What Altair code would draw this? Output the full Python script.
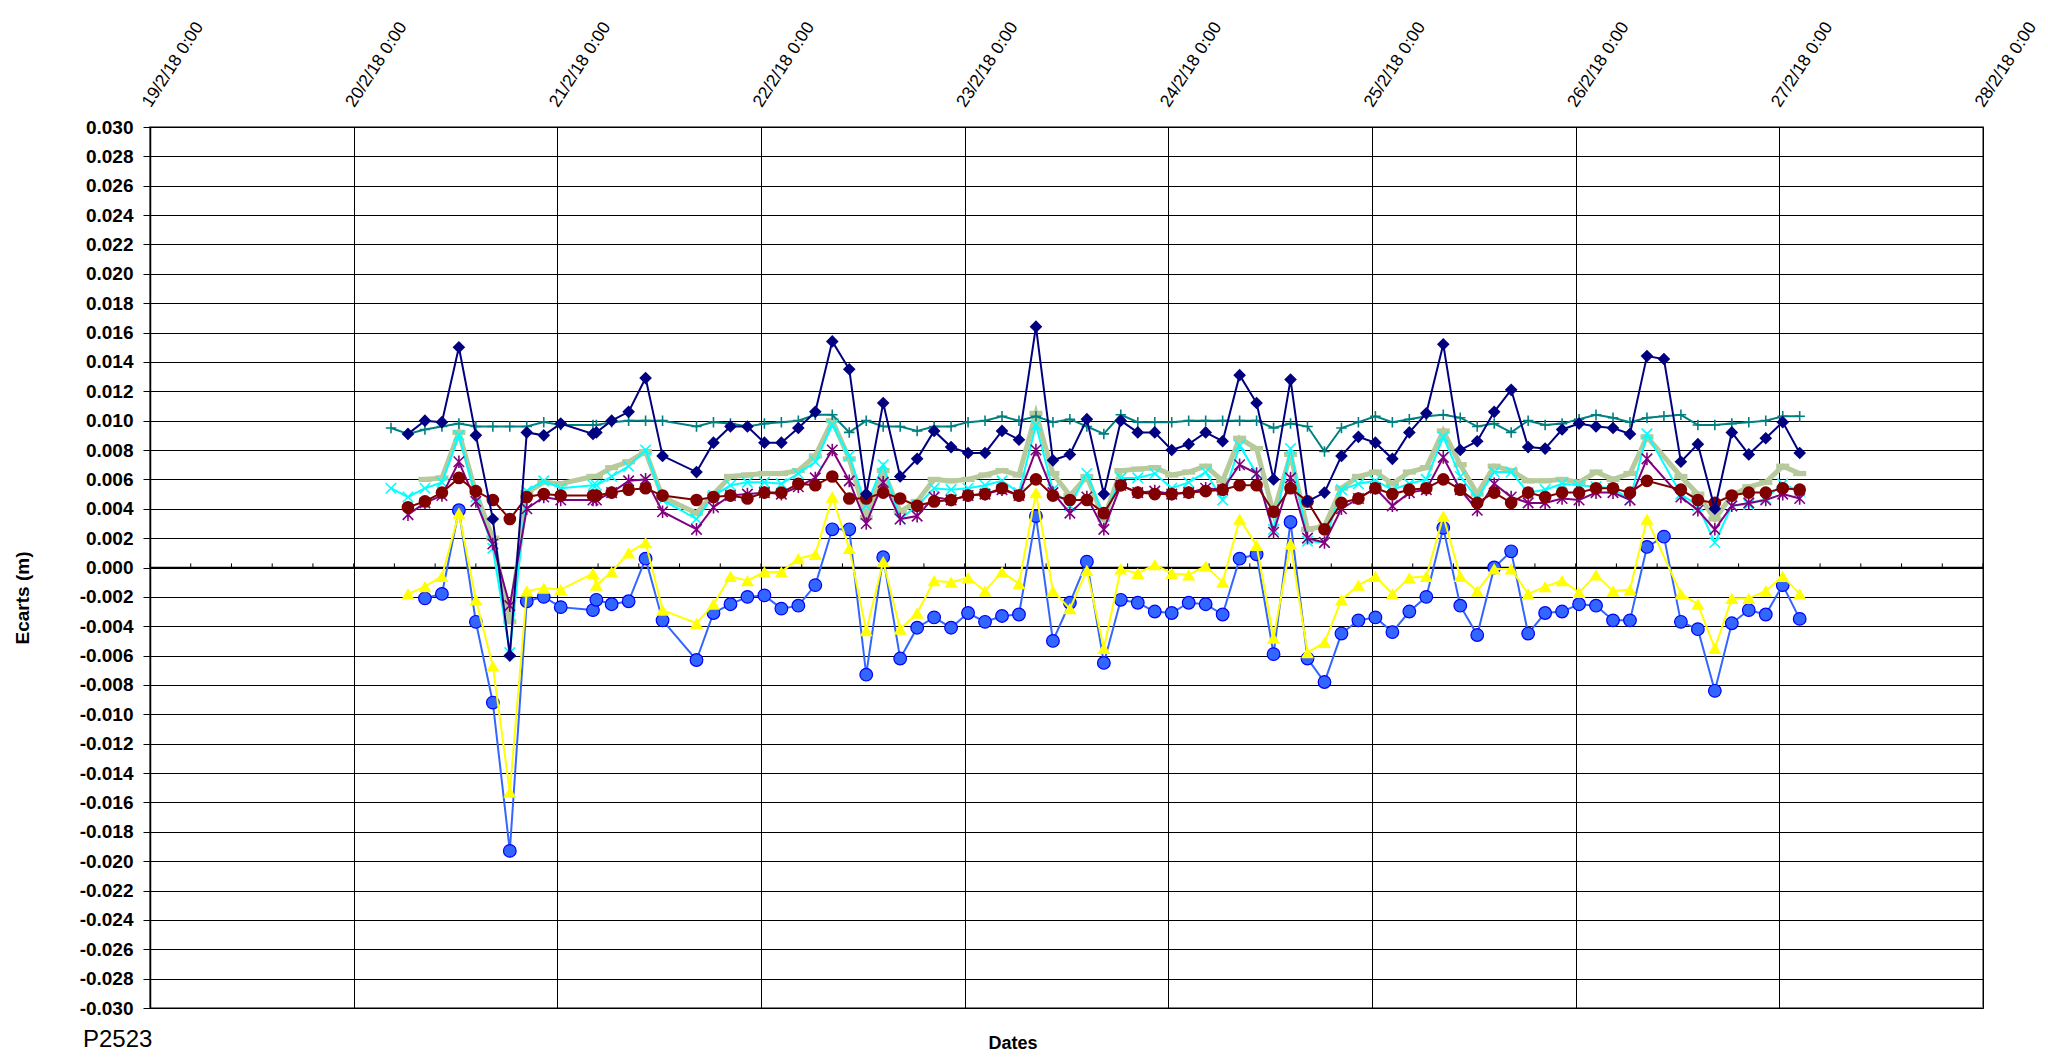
import altair as alt
import pandas as pd

# Sampling instants (February 2018), "day HH:MM"
TIMES = [
    "20 04:24", "20 06:24", "20 08:24", "20 10:24", "20 12:24",
    "20 14:24", "20 16:24", "20 18:24", "20 20:24", "20 22:24",
    "21 00:24", "21 04:12", "21 04:36", "21 06:24", "21 08:24",
    "21 10:24", "21 12:24", "21 16:24", "21 18:24", "21 20:24", "21 22:24",
    "22 00:24", "22 02:24", "22 04:24", "22 06:24", "22 08:24", "22 10:24",
    "22 12:24", "22 14:24", "22 16:24", "22 18:24", "22 20:24", "22 22:24",
    "23 00:24", "23 02:24", "23 04:24", "23 06:24", "23 08:24", "23 10:24",
    "23 12:24", "23 14:24", "23 16:24", "23 18:24", "23 20:24", "23 22:24",
    "24 00:24", "24 02:24", "24 04:24", "24 06:24", "24 08:24", "24 10:24",
    "24 12:24", "24 14:24", "24 16:24", "24 18:24", "24 20:24", "24 22:24",
    "25 00:24", "25 02:24", "25 04:24", "25 06:24", "25 08:24", "25 10:24",
    "25 12:24", "25 14:24", "25 16:24", "25 18:24", "25 20:24", "25 22:24",
    "26 00:24", "26 02:24", "26 04:24", "26 06:24", "26 08:24", "26 10:24",
    "26 12:24", "26 14:24", "26 16:24", "26 18:24", "26 20:24", "26 22:24",
    "27 00:24", "27 02:24",
]

NAVY = [
    None, 0.0091, 0.0100, 0.0099, 0.0150, 0.0090, 0.0033, -0.0060, 0.0092, 0.0090,
    0.0098, 0.0091, 0.0092, 0.0100, 0.0106, 0.0129, 0.0076, 0.0065, 0.0085, 0.0096, 0.0096,
    0.0085, 0.0085, 0.0095, 0.0106, 0.0154, 0.0135, 0.0050, 0.0112, 0.0062, 0.0074, 0.0093, 0.0082,
    0.0078, 0.0078, 0.0093, 0.0087, 0.0164, 0.0073, 0.0077, 0.0101, 0.0050, 0.0100, 0.0092, 0.0092,
    0.0080, 0.0084, 0.0092, 0.0086, 0.0131, 0.0112, 0.0060, 0.0128, 0.0045, 0.0051, 0.0076, 0.0089,
    0.0085, 0.0074, 0.0092, 0.0105, 0.0152, 0.0080, 0.0086, 0.0106, 0.0121, 0.0082, 0.0081, 0.0094,
    0.0098, 0.0096, 0.0095, 0.0091, 0.0144, 0.0142, 0.0072, 0.0084, 0.0040, 0.0092, 0.0077, 0.0088,
    0.0099, 0.0078,
]
TEAL = [
    0.0095, 0.0091, 0.0094, 0.0096, 0.0098, 0.0096, 0.0096, 0.0096, 0.0096, 0.0099,
    0.0097, 0.0097, 0.0097, 0.0099, 0.0100, 0.0100, 0.0100, 0.0096, 0.0099, 0.0098, 0.0096,
    0.0098, 0.0099, 0.0100, 0.0104, 0.0104, 0.0092, 0.0100, 0.0096, 0.0096, 0.0093, 0.0096, 0.0096,
    0.0099, 0.0100, 0.0103, 0.0100, 0.0103, 0.0099, 0.0101, 0.0096, 0.0091, 0.0104, 0.0099, 0.0099,
    0.0099, 0.0100, 0.0100, 0.0100, 0.0100, 0.0100, 0.0095, 0.0098, 0.0096, 0.0079, 0.0095, 0.0099,
    0.0103, 0.0099, 0.0101, 0.0103, 0.0104, 0.0102, 0.0096, 0.0098, 0.0092, 0.0100, 0.0097, 0.0098,
    0.0101, 0.0104, 0.0102, 0.0099, 0.0102, 0.0103, 0.0104, 0.0097, 0.0097, 0.0098, 0.0099, 0.0100,
    0.0103, 0.0103,
]
CYAN = [
    0.0054, 0.0048, 0.0054, 0.0058, 0.0090, 0.0048, 0.0013, -0.0058, 0.0052, 0.0059,
    0.0054, 0.0056, 0.0056, 0.0062, 0.0069, 0.0080, 0.0046, 0.0033, 0.0049, 0.0056, 0.0058,
    0.0058, 0.0057, 0.0064, 0.0072, 0.0097, 0.0076, 0.0042, 0.0070, 0.0033, 0.0042, 0.0054, 0.0053,
    0.0054, 0.0056, 0.0059, 0.0051, 0.0097, 0.0053, 0.0042, 0.0064, 0.0035, 0.0061, 0.0061, 0.0064,
    0.0054, 0.0058, 0.0065, 0.0046, 0.0083, 0.0064, 0.0026, 0.0081, 0.0018, 0.0017, 0.0053, 0.0057,
    0.0059, 0.0053, 0.0057, 0.0060, 0.0089, 0.0062, 0.0047, 0.0065, 0.0065, 0.0051, 0.0053, 0.0057,
    0.0056, 0.0055, 0.0054, 0.0046, 0.0091, None, 0.0050, 0.0042, 0.0017, 0.0042, 0.0043, 0.0047,
    0.0057, 0.0052,
]
KHAKI = [
    None, None, 0.0060, 0.0061, 0.0092, 0.0051, 0.0020, -0.0037, 0.0051, 0.0058,
    0.0057, 0.0062, 0.0062, 0.0068, 0.0072, 0.0079, 0.0048, 0.0037, 0.0050, 0.0062, 0.0063,
    0.0064, 0.0064, 0.0066, 0.0076, 0.0100, 0.0074, 0.0034, 0.0066, 0.0038, 0.0045, 0.0060, 0.0059,
    0.0060, 0.0063, 0.0066, 0.0063, 0.0105, 0.0064, 0.0049, 0.0062, 0.0033, 0.0066, 0.0067, 0.0068,
    0.0063, 0.0065, 0.0069, 0.0059, 0.0088, 0.0081, 0.0037, 0.0077, 0.0026, 0.0028, 0.0054, 0.0062,
    0.0065, 0.0057, 0.0065, 0.0068, 0.0093, 0.0070, 0.0050, 0.0069, 0.0066, 0.0059, 0.0059, 0.0060,
    0.0058, 0.0065, 0.0060, 0.0064, 0.0089, None, 0.0062, 0.0050, 0.0033, 0.0049, 0.0055, 0.0058,
    0.0069, 0.0064,
]
PURPLE = [
    None, 0.0036, 0.0044, 0.0049, 0.0072, 0.0045, 0.0016, -0.0026, 0.0040, 0.0048,
    0.0046, 0.0046, 0.0046, 0.0051, 0.0059, 0.0060, 0.0038, 0.0026, 0.0041, 0.0049, 0.0050,
    0.0051, 0.0050, 0.0055, 0.0061, 0.0080, 0.0059, 0.0030, 0.0058, 0.0033, 0.0035, 0.0048, 0.0046,
    0.0049, 0.0050, 0.0053, 0.0049, 0.0080, 0.0051, 0.0037, 0.0048, 0.0026, 0.0056, 0.0051, 0.0052,
    0.0050, 0.0051, 0.0054, 0.0053, 0.0070, 0.0064, 0.0024, 0.0061, 0.0020, 0.0017, 0.0040, 0.0047,
    0.0054, 0.0042, 0.0051, 0.0053, 0.0075, 0.0053, 0.0039, 0.0057, 0.0048, 0.0044, 0.0044, 0.0047,
    0.0046, 0.0051, 0.0051, 0.0046, 0.0074, None, 0.0048, 0.0039, 0.0026, 0.0042, 0.0044, 0.0046,
    0.0050, 0.0047,
]
DARKRED = [
    None, 0.0041, 0.0045, 0.0051, 0.0061, 0.0052, 0.0046, 0.0033, 0.0048, 0.0050,
    0.0049, 0.0049, 0.0049, 0.0051, 0.0053, 0.0054, 0.0049, 0.0046, 0.0048, 0.0049, 0.0047,
    0.0051, 0.0051, 0.0057, 0.0056, 0.0062, 0.0047, 0.0047, 0.0051, 0.0047, 0.0042, 0.0045, 0.0046,
    0.0049, 0.0050, 0.0054, 0.0049, 0.0060, 0.0049, 0.0046, 0.0046, 0.0037, 0.0056, 0.0051, 0.0050,
    0.0050, 0.0051, 0.0052, 0.0053, 0.0056, 0.0056, 0.0038, 0.0054, 0.0045, 0.0026, 0.0044, 0.0047,
    0.0054, 0.0050, 0.0053, 0.0054, 0.0060, 0.0053, 0.0044, 0.0051, 0.0044, 0.0051, 0.0048, 0.0051,
    0.0051, 0.0054, 0.0054, 0.0051, 0.0059, None, 0.0053, 0.0046, 0.0044, 0.0049, 0.0051, 0.0051,
    0.0054, 0.0053,
]
YELLOW = [
    None, -0.0018, -0.0013, -0.0006, 0.0037, -0.0022, -0.0067, -0.0153, -0.0016, -0.0014,
    -0.0015, -0.0004, -0.0012, -0.0003, 0.0010, 0.0017, -0.0029, -0.0038, -0.0025, -0.0006, -0.0009,
    -0.0003, -0.0003, 0.0006, 0.0009, 0.0048, 0.0013, -0.0043, 0.0004, -0.0042, -0.0031, -0.0009, -0.0010,
    -0.0007, -0.0016, -0.0003, -0.0011, 0.0051, -0.0016, -0.0028, -0.0002, -0.0055, -0.0001, -0.0004, 0.0002,
    -0.0004, -0.0005, 0.0001, -0.0010, 0.0033, 0.0015, -0.0048, 0.0016, -0.0058, -0.0051, -0.0022, -0.0012,
    -0.0006, -0.0018, -0.0007, -0.0006, 0.0035, -0.0006, -0.0016, -0.0001, -0.0001, -0.0018, -0.0013, -0.0009,
    -0.0017, -0.0005, -0.0016, -0.0015, 0.0033, None, -0.0018, -0.0025, -0.0055, -0.0021, -0.0021, -0.0016,
    -0.0006, -0.0018,
]
BLUE = [
    None, None, -0.0021, -0.0018, 0.0039, -0.0037, -0.0092, -0.0193, -0.0023, -0.0020,
    -0.0027, -0.0029, -0.0022, -0.0025, -0.0023, 0.0006, -0.0036, -0.0063, -0.0031, -0.0025, -0.0020,
    -0.0019, -0.0028, -0.0026, -0.0012, 0.0026, 0.0026, -0.0073, 0.0007, -0.0062, -0.0041, -0.0034, -0.0041,
    -0.0031, -0.0037, -0.0033, -0.0032, 0.0035, -0.0050, -0.0024, 0.0004, -0.0065, -0.0022, -0.0024, -0.0030,
    -0.0031, -0.0024, -0.0025, -0.0032, 0.0006, 0.0009, -0.0059, 0.0031, -0.0062, -0.0078, -0.0045, -0.0036,
    -0.0034, -0.0044, -0.0030, -0.0020, 0.0027, -0.0026, -0.0046, 0.0000, 0.0011, -0.0045, -0.0031, -0.0030,
    -0.0025, -0.0026, -0.0036, -0.0036, 0.0014, 0.0021, -0.0037, -0.0042, -0.0084, -0.0038, -0.0029, -0.0032,
    -0.0012, -0.0035,
]

Y_TICKS = [round(-0.030 + 0.002 * i, 3) for i in range(31)]
DAYS = list(range(19, 29))

PLUS = "M-1,0H1M0,-1V1"
XMARK = "M-1,-1L1,1M-1,1L1,-1"
STAR = "M-1,-1L1,1M-1,1L1,-1M0,-1.2V1.2"
BAR = "M-1,-0.4H1V0.4H-1Z"

# draw order bottom -> top
SERIES = [
    ("khaki", KHAKI, dict(color="#B7CA9C", width=5,
                          point=dict(shape=BAR, size=170, filled=True, fill="#B7CA9C", strokeWidth=0))),
    ("teal", TEAL, dict(color="#008080", width=2,
                        point=dict(shape=PLUS, size=110, filled=False, stroke="#008080", strokeWidth=1.6))),
    ("cyan", CYAN, dict(color="#00FFFF", width=2,
                        point=dict(shape=XMARK, size=110, filled=False, stroke="#00FFFF", strokeWidth=1.6))),
    ("purple", PURPLE, dict(color="#800080", width=2,
                            point=dict(shape=STAR, size=110, filled=False, stroke="#800080", strokeWidth=1.6))),
    ("darkred", DARKRED, dict(color="#800000", width=2,
                              point=dict(shape="circle", size=160, filled=True, fill="#800000", strokeWidth=0))),
    ("navy", NAVY, dict(color="#000080", width=2,
                        point=dict(shape="diamond", size=160, filled=True, fill="#000080", strokeWidth=0))),
    ("blue", BLUE, dict(color="#3366FF", width=2,
                        point=dict(shape="circle", size=160, filled=True, fill="#3366FF", stroke="#0000FF", strokeWidth=1.2))),
    ("yellow", YELLOW, dict(color="#FFFF00", width=2,
                            point=dict(shape="triangle-up", size=170, filled=True, fill="#FFFF00", strokeWidth=0))),
]

assert all(len(v) == len(TIMES) for _, v, _ in SERIES)

def iso(t):
    d, hm = t.split(" ")
    return f"2018-02-{d}T{hm}:00"

FONT = "Liberation Sans"

x_enc = alt.X(
    "t:T",
    scale=alt.Scale(domain=[alt.DateTime(year=2018, month=2, date=19),
                            alt.DateTime(year=2018, month=2, date=28)]),
    axis=alt.Axis(
        orient="top", title=None,
        values=[alt.DateTime(year=2018, month=2, date=d) for d in DAYS],
        tickCount=20,
        labelExpr="date(datum.value) + '/' + (month(datum.value) + 1) + '/18 0:00'",
        labelAngle=303, labelAlign="left", labelBaseline="middle",
        labelPadding=22, labelOffset=-4, labelFont=FONT, labelFontSize=17.5,
        labelColor="#000000", labelOverlap=False, labelFlush=False,
        tickSize=0, domain=False, grid=True, gridColor="#000000", gridWidth=1,
        gridOpacity=1,
    ),
)

Y_SCALE = alt.Scale(domain=[-0.030, 0.030], nice=False, zero=False)
Y_AXIS = alt.Axis(
    title=None, values=Y_TICKS, tickCount=40,
    labelExpr="(datum.value < 0 ? '-' : '') + format(abs(datum.value), '.3f')",
    labelFont=FONT, labelFontSize=19, labelFontWeight="bold", labelColor="#000000",
    labelPadding=10, labelOverlap=False, labelFlush=False,
    tickSize=7, tickColor="#000000", domainColor="#000000", domainWidth=1.5,
    grid=True, gridColor="#000000", gridWidth=1, gridOpacity=1,
)

def y_enc(field):
    return alt.Y(f"{field}:Q", scale=Y_SCALE, axis=Y_AXIS)

layers = []
for name, vals, st in SERIES:
    df = pd.DataFrame({"t": [iso(t) for t in TIMES], "v": vals})
    df = df.dropna()
    p = st["point"]
    layers.append(
        alt.Chart(df).mark_line(
            color=st["color"], strokeWidth=st["width"],
            point=alt.OverlayMarkDef(**p),
        ).encode(x=x_enc, y=y_enc("v"))
    )

# minor tick marks on the zero line (every 0.2 day)
tick_df = pd.DataFrame({
    "t": pd.date_range("2018-02-19", "2018-02-28", freq="288min").strftime("%Y-%m-%dT%H:%M:%S"),
    "v": 0.0, "v1": 0.00028,
})
ticks = alt.Chart(tick_df).mark_rule(color="#000000", strokeWidth=1).encode(
    x=x_enc, y=y_enc("v"), y2="v1:Q",
)
zero_line = alt.Chart(pd.DataFrame({"v": [0.0]})).mark_rule(color="#000000", strokeWidth=1.5).encode(
    y=y_enc("v"), x=alt.value(0), x2=alt.value(1833)
)

ytitle = alt.Chart(pd.DataFrame({"s": ["Ecarts (m)"]})).mark_text(
    font=FONT, fontSize=19, fontWeight="bold", angle=270, align="center", baseline="middle", color="#000000"
).encode(text="s:N", x=alt.value(-127), y=alt.value(471))
xtitle = alt.Chart(pd.DataFrame({"s": ["Dates"]})).mark_text(
    font=FONT, fontSize=18, fontWeight="bold", align="center", baseline="middle", color="#000000"
).encode(text="s:N", x=alt.value(863), y=alt.value(917))
ptitle = alt.Chart(pd.DataFrame({"s": ["P2523"]})).mark_text(
    font=FONT, fontSize=24, align="left", baseline="middle", color="#000000"
).encode(text="s:N", x=alt.value(-67), y=alt.value(913))

chart = alt.layer(zero_line, ticks, *layers, ytitle, xtitle, ptitle).properties(
    width=1833, height=881,
    padding={"left": 142, "top": 119, "right": 57, "bottom": 48},
    autosize=alt.AutoSizeParams(type="none"),
    background="#FFFFFF",
).configure_view(stroke="#808080", strokeWidth=2)

chart.save("out.html", embed_options={"renderer": "svg", "actions": False})
